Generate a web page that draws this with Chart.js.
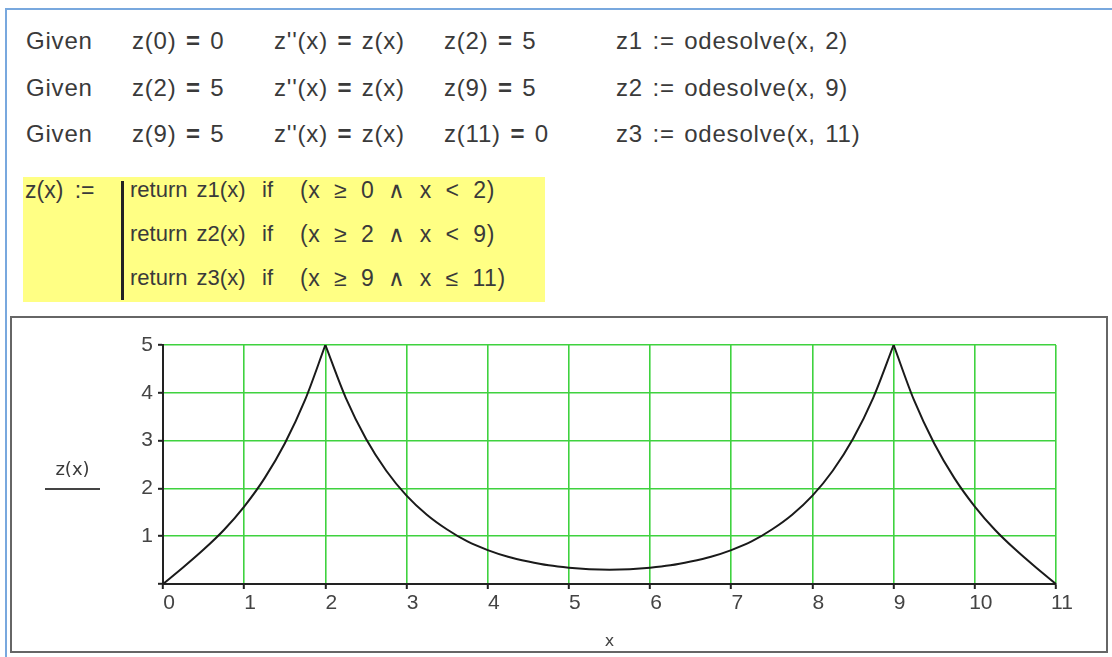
<!DOCTYPE html>
<html>
<head>
<meta charset="utf-8">
<title>z(x) piecewise solution</title>
<script src="https://cdn.jsdelivr.net/npm/chart.js@4/dist/chart.umd.min.js"></script>
<style>
  html, body { margin: 0; padding: 0; background: #fff; }
  body { width: 1112px; height: 657px; position: relative; overflow: hidden;
         font-family: "Liberation Sans", Arial, sans-serif; color: #3a3a3a; }
  .sheet { position: absolute; left: 5px; top: 8px; right: -10px; bottom: -10px;
           border-top: 2px solid #78a8de; border-left: 2px solid #78a8de; }
  .t { position: absolute; font-size: 24px; line-height: 24px; white-space: pre;
       letter-spacing: 0.8px; word-spacing: 2px; }
  .t b { font-weight: bold; }
  .p { position: absolute; font-size: 22px; line-height: 24px; white-space: pre; word-spacing: 3px; }
  .cond { font-size: 23px; word-spacing: 7px; letter-spacing: 0.5px; }
  .hl { position: absolute; left: 23px; top: 177px; width: 522px; height: 125px; background: #ffff84; }
  .bar { position: absolute; left: 121px; top: 181px; width: 3px; height: 119px; background: #222; }
  .frame { position: absolute; left: 10px; top: 316px; width: 1094px; height: 333px;
           border: 2px solid #666; }
  #plot { position: absolute; left: 12px; top: 318px; }
  .trace { position: absolute; left: 45px; top: 458px; width: 55px; font-family: "DejaVu Sans", sans-serif;
           font-size: 18px; line-height: 22px; color: #3a3a3a; text-align: center; padding-bottom: 8px;
           border-bottom: 2px solid #444; }
</style>
</head>
<body>
<div class="sheet"></div>

<!-- solve blocks -->
<div class="t" style="left:26px;top:29px">Given</div>
<div class="t" style="left:132px;top:29px">z(0) <b>=</b> 0</div>
<div class="t" style="left:274px;top:29px">z''(x) <b>=</b> z(x)</div>
<div class="t" style="left:444px;top:29px">z(2) <b>=</b> 5</div>
<div class="t" style="left:616px;top:29px">z1 := odesolve(x, 2)</div>

<div class="t" style="left:26px;top:76px">Given</div>
<div class="t" style="left:132px;top:76px">z(2) <b>=</b> 5</div>
<div class="t" style="left:274px;top:76px">z''(x) <b>=</b> z(x)</div>
<div class="t" style="left:444px;top:76px">z(9) <b>=</b> 5</div>
<div class="t" style="left:616px;top:76px">z2 := odesolve(x, 9)</div>

<div class="t" style="left:26px;top:122px">Given</div>
<div class="t" style="left:132px;top:122px">z(9) <b>=</b> 5</div>
<div class="t" style="left:274px;top:122px">z''(x) <b>=</b> z(x)</div>
<div class="t" style="left:444px;top:122px">z(11) <b>=</b> 0</div>
<div class="t" style="left:616px;top:122px">z3 := odesolve(x, 11)</div>

<!-- piecewise definition -->
<div class="hl"></div>
<div class="bar"></div>
<div class="p" style="left:25px;top:178px;font-size:23px;word-spacing:5px">z(x) :=</div>
<div class="p" style="left:130px;top:178px">return z1(x)</div>
<div class="p" style="left:262px;top:178px">if</div>
<div class="p cond" style="left:300px;top:178px">(x ≥ 0 ∧ x &lt; 2)</div>
<div class="p" style="left:130px;top:222px">return z2(x)</div>
<div class="p" style="left:262px;top:222px">if</div>
<div class="p cond" style="left:300px;top:222px">(x ≥ 2 ∧ x &lt; 9)</div>
<div class="p" style="left:130px;top:266px">return z3(x)</div>
<div class="p" style="left:262px;top:266px">if</div>
<div class="p cond" style="left:300px;top:266px">(x ≥ 9 ∧ x ≤ 11)</div>

<!-- plot -->
<div class="frame"></div>
<canvas id="plot" width="1094" height="333"></canvas>
<div class="trace">z(x)</div>

<script>
// sampled z(x) for each piece (z'' = z between the boundary values)
const z1X = [0, 0.25, 0.5, 0.75, 1, 1.25, 1.5, 1.75, 2];
const z1Y = [0, 0.35, 0.72, 1.13, 1.62, 2.21, 2.94, 3.85, 5];

const z2X = [2, 2.25, 2.5, 2.75, 3, 3.25, 3.5, 3.75, 4, 4.25, 4.5, 4.75, 5, 5.25, 5.5,
             5.75, 6, 6.25, 6.5, 6.75, 7, 7.25, 7.5, 7.75, 8, 8.25, 8.5, 8.75, 9];
const z2Y = [5, 3.9, 3.04, 2.37, 1.85, 1.45, 1.14, 0.89, 0.71, 0.57, 0.47, 0.39, 0.34, 0.31, 0.3,
             0.31, 0.34, 0.39, 0.47, 0.57, 0.71, 0.89, 1.14, 1.45, 1.85, 2.37, 3.04, 3.9, 5];

const z3X = [9, 9.25, 9.5, 9.75, 10, 10.25, 10.5, 10.75, 11];
const z3Y = [5, 3.85, 2.94, 2.21, 1.62, 1.13, 0.72, 0.35, 0];

const xTickLabels = ['0', '1', '2', '3', '4', '5', '6', '7', '8', '9', '10', '11'];
const yTickLabels = ['', '1', '2', '3', '4', '5'];

function pts(xs, ys){ return xs.map((x, i) => ({ x, y: ys[i] })); }

function piece(xs, ys){
  return {
    data: pts(xs, ys),
    borderColor: '#1a1a1a',
    borderWidth: 2,
    pointRadius: 0,
    cubicInterpolationMode: 'monotone',
    fill: false
  };
}

const gridGreen = '#3fd23f';
const tickFont = { family: '"Liberation Sans", Arial, sans-serif', size: 21 };

new Chart(document.getElementById('plot'), {
  type: 'line',
  data: { datasets: [piece(z1X, z1Y), piece(z2X, z2Y), piece(z3X, z3Y)] },
  options: {
    responsive: false,
    animation: false,
    layout: { padding: { top: 27, right: 50, left: 0, bottom: 0 } },
    plugins: { legend: { display: false }, tooltip: { enabled: false } },
    scales: {
      x: {
        type: 'linear', min: 0, max: 11,
        afterFit(s){ s.height = 67; },
        border: { color: '#222', width: 2 },
        grid: { color: gridGreen, lineWidth: 1.6, tickColor: '#222', tickLength: 5, tickWidth: 2 },
        ticks: {
          stepSize: 1, padding: 2, labelOffset: 6, color: '#444', font: tickFont, maxRotation: 0,
          callback: v => xTickLabels[v] ?? ''
        },
        title: { display: true, text: 'x', color: '#444', padding: 0,
                 font: { family: '"DejaVu Sans", sans-serif', size: 16 } }
      },
      y: {
        type: 'linear', min: 0, max: 5,
        afterFit(s){ s.width = 151; },
        border: { color: '#222', width: 2 },
        grid: { color: gridGreen, lineWidth: 1.6, tickColor: '#222', tickLength: 5, tickWidth: 2 },
        ticks: {
          stepSize: 1, padding: 5, color: '#444', font: tickFont,
          callback: v => yTickLabels[v] ?? ''
        }
      }
    }
  }
});
</script>
</body>
</html>
